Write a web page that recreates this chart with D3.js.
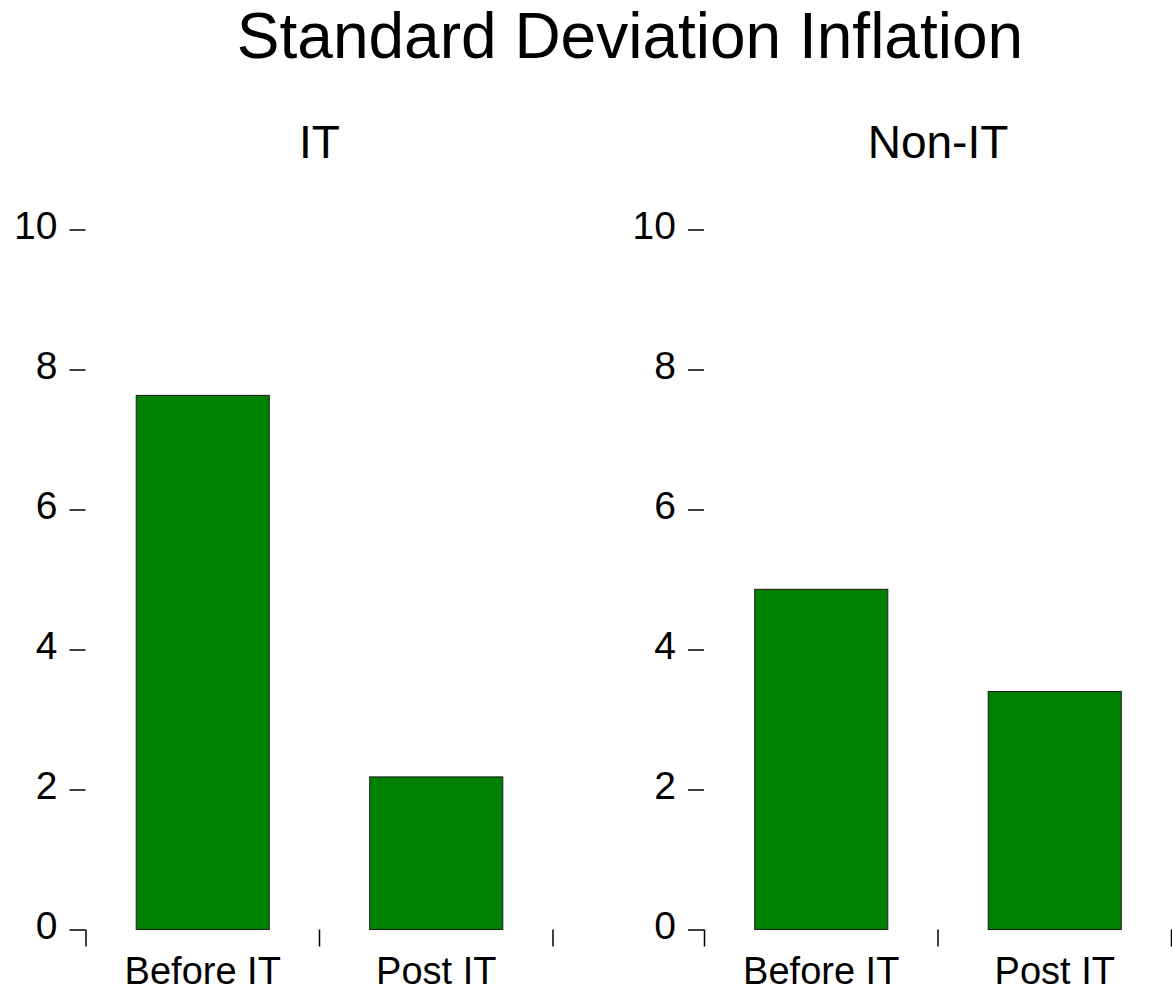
<!DOCTYPE html>
<html>
<head>
<meta charset="utf-8">
<script src="https://cdn.jsdelivr.net/npm/d3@7"></script>
<style>
  html, body { margin: 0; padding: 0; background: #fff; }
  svg text { font-family: "Liberation Sans", Arial, sans-serif; fill: #000; }
</style>
</head>
<body>
<svg id="chart" width="1172" height="991"></svg>
<script>
// Chart data
const chartTitle = "Standard Deviation Inflation";
const panels = ["IT", "Non-IT"];
const categories = ["Before IT", "Post IT"];
const itValues = [7.63, 2.18];
const nonItValues = [4.86, 3.40];
const yTicks = [0, 2, 4, 6, 8, 10];

const panelValues = [itValues, nonItValues];

const svg = d3.select("#chart");

const y = d3.scaleLinear().domain([0, 10]).range([929.5, 229.5]);

// horizontal extent of each panel's category axis
const panelRanges = [[86, 553], [704.5, 1171.5]];

svg.append("text")
  .attr("x", 630)
  .attr("y", 58)
  .attr("text-anchor", "middle")
  .style("font-size", "64px")
  .text(chartTitle);

panels.forEach((name, pi) => {
  const [x0, x1] = panelRanges[pi];
  const x = d3.scaleBand()
    .domain(categories)
    .range([x0, x1])
    .paddingInner(0.43)
    .paddingOuter(0.215);
  const g = svg.append("g");

  // panel heading
  g.append("text")
    .attr("x", (x0 + x1) / 2)
    .attr("y", 158)
    .attr("text-anchor", "middle")
    .style("font-size", "46px")
    .text(name);

  // bars
  g.selectAll("rect.bar")
    .data(categories.map((c, i) => ({ c, v: panelValues[pi][i] })))
    .join("rect")
    .attr("class", "bar")
    .attr("x", d => x(d.c))
    .attr("width", x.bandwidth())
    .attr("y", d => y(d.v))
    .attr("height", d => y(0) - y(d.v))
    .attr("fill", "#008000")
    .attr("stroke", "#1a1a1a")
    .attr("stroke-width", 1);

  // y axis: detached short ticks with labels
  const yAxis = d3.axisLeft(y)
    .tickValues(yTicks)
    .tickSize(16)
    .tickPadding(12)
    .tickFormat(d3.format("d"));
  const ya = g.append("g")
    .attr("transform", `translate(${x0 - 0.5},0)`)
    .call(yAxis);
  ya.select(".domain").remove();
  ya.selectAll(".tick line").attr("stroke", "#000").attr("stroke-width", 1.5);
  ya.selectAll(".tick text")
    .attr("dy", null)
    .attr("y", 8.5)
    .style("font-size", "39px")
    .style("font-family", '"Liberation Sans", Arial, sans-serif');

  // x axis: ticks at category boundaries, labels centred under bars
  const step = x.step();
  const boundaries = [x0, x0 + step, x1];
  g.selectAll("line.xtick")
    .data(boundaries)
    .join("line")
    .attr("class", "xtick")
    .attr("x1", d => d).attr("x2", d => d)
    .attr("y1", y(0)).attr("y2", y(0) + 17)
    .attr("stroke", "#000")
    .attr("stroke-width", 1.5);

  g.selectAll("text.xlabel")
    .data(categories)
    .join("text")
    .attr("class", "xlabel")
    .attr("x", d => x(d) + x.bandwidth() / 2)
    .attr("y", 984)
    .attr("text-anchor", "middle")
    .style("font-size", "38px")
    .text(d => d);
});
</script>
</body>
</html>
